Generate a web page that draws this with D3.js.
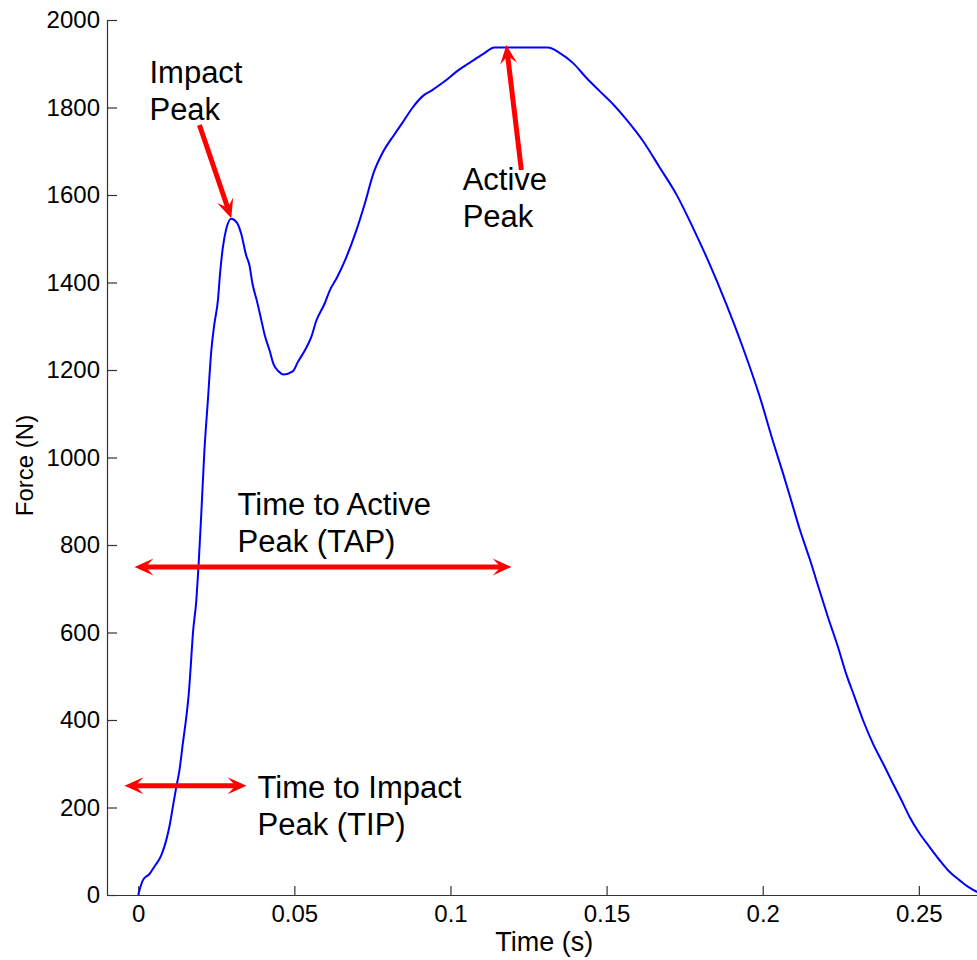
<!DOCTYPE html>
<html>
<head>
<meta charset="utf-8">
<script src="https://cdn.jsdelivr.net/npm/d3@7"></script>
<style>
  body { margin: 0; background: #fff; }
  svg { display: block; font-family: "Liberation Sans", Arial, Helvetica, sans-serif; }
</style>
</head>
<body>
<div id="chart"></div>
<script>
// ground reaction force
const time = [0, 0.0015, 0.0036, 0.0052, 0.0074, 0.0090, 0.0102, 0.0111, 0.0122, 0.0132,
  0.0143, 0.0154, 0.0162, 0.0168, 0.0175, 0.0186, 0.0193, 0.0202, 0.0212, 0.0223,
  0.0234, 0.0244, 0.0255, 0.0262, 0.0271, 0.0282, 0.0298, 0.0316, 0.0330, 0.0346,
  0.0356, 0.0366, 0.0380, 0.0393, 0.0405, 0.0421, 0.0433, 0.0449, 0.0465, 0.0495,
  0.0511, 0.0533, 0.0554, 0.0570, 0.0597, 0.0613, 0.0637, 0.0666, 0.0698, 0.0725,
  0.0754, 0.0783, 0.0821, 0.0847, 0.0879, 0.0911, 0.0938, 0.0976, 0.1029, 0.1061,
  0.1104, 0.1141, 0.1312, 0.1349, 0.1392, 0.1435, 0.1477, 0.1520, 0.1563, 0.1616,
  0.1670, 0.1723, 0.1776, 0.1830, 0.1883, 0.1936, 0.1990, 0.2032, 0.2064, 0.2091,
  0.2118, 0.2150, 0.2182, 0.2209, 0.2241, 0.2267, 0.2294, 0.2321, 0.2353, 0.2385,
  0.2417, 0.2444, 0.2470, 0.2502, 0.2534, 0.2566, 0.2598, 0.2630, 0.2657, 0.2684, 0.2700];
const force = [0, 34, 48, 65, 91, 126, 164, 202, 247, 285,
  347, 407, 461, 521, 597, 673, 750, 872, 1016, 1130,
  1244, 1306, 1358, 1420, 1480, 1523, 1546, 1537, 1511, 1461,
  1440, 1397, 1358, 1318, 1280, 1244, 1214, 1197, 1190, 1197,
  1218, 1244, 1275, 1312, 1352, 1381, 1412, 1457, 1518, 1579,
  1651, 1697, 1739, 1766, 1800, 1826, 1838, 1857, 1887, 1902,
  1922, 1937, 1937, 1925, 1902, 1868, 1838, 1808, 1773, 1724,
  1663, 1602, 1526, 1442, 1351, 1252, 1140, 1039, 966, 902,
  837, 769, 696, 635, 567, 506, 453, 400, 346, 301,
  255, 217, 179, 141, 110, 80, 53, 34, 19, 8, 4];

const xTicks = [0, 0.05, 0.1, 0.15, 0.2, 0.25];
const yTicks = [0, 200, 400, 600, 800, 1000, 1200, 1400, 1600, 1800, 2000];
const xLabel = "Time (s)";
const yLabel = "Force (N)";

// annotation texts and where they sit (data units)
const notes = [
  {lines: ["Impact", "Peak"], t: 0.0036, f: 1856},
  {lines: ["Active", "Peak"], t: 0.1039, f: 1611},
  {lines: ["Time to Active", "Peak (TAP)"], t: 0.0318, f: 869},
  {lines: ["Time to Impact", "Peak (TIP)"], t: 0.0382, f: 222}
];
const arrows = [
  {from: [0.0196, 1760], to: [0.0298, 1547], both: false},
  {from: [0.1227, 1657], to: [0.1179, 1943], both: false},
  {from: [-0.0012, 750], to: [0.1196, 750], both: true},
  {from: [-0.0044, 250], to: [0.0347, 250], both: true}
];

const width = 977, height = 960;
const margin = {top: 20, left: 107, bottom: 65};

const svg = d3.select("#chart").append("svg")
  .attr("width", width)
  .attr("height", height);

const x = d3.scaleLinear().domain([-0.01, 0.27]).range([margin.left, 981.3]);
const y = d3.scaleLinear().domain([0, 2000]).range([height - margin.bottom, margin.top]);

const xAxis = d3.axisBottom(x).tickValues(xTicks).tickFormat(d3.format("")).tickSizeInner(-9).tickSizeOuter(0).tickPadding(10);
const yAxis = d3.axisLeft(y).tickValues(yTicks).tickFormat(d3.format("d")).tickSizeInner(-10).tickSizeOuter(0).tickPadding(7);

svg.append("g")
  .attr("transform", `translate(0,${y(0)})`)
  .call(xAxis)
  .attr("font-family", null)
  .attr("font-size", 24)
  .call(g => g.selectAll("text").attr("fill", "#000"));

svg.append("g")
  .attr("transform", `translate(${margin.left},0)`)
  .call(yAxis)
  .attr("font-family", null)
  .attr("font-size", 24)
  .call(g => g.selectAll("text").attr("fill", "#000"));

svg.selectAll(".domain, .tick line").attr("stroke", "#333").attr("stroke-width", 1.2);

svg.append("text")
  .attr("x", (margin.left + 981.3) / 2)
  .attr("y", 951)
  .attr("text-anchor", "middle")
  .attr("font-size", 27)
  .text(xLabel);

svg.append("text")
  .attr("transform", `translate(33,${(y(0) + y(2000)) / 2 + 8}) rotate(-90)`)
  .attr("text-anchor", "middle")
  .attr("font-size", 24)
  .text(yLabel);

const points = time.map((t, i) => [t, force[i]]);
const line = d3.line().x(d => x(d[0])).y(d => y(d[1])).curve(d3.curveMonotoneX);

svg.append("path")
  .datum(points)
  .attr("fill", "none")
  .attr("stroke", "#0000ff")
  .attr("stroke-width", 2)
  .attr("d", line);

// red arrows with notched heads
function head(tip, u) {
  const L = 19, W = 8.5, N = 11;
  const n = [-u[1], u[0]];
  const p = (a, b) => [tip[0] - u[0] * a + n[0] * b, tip[1] - u[1] * a + n[1] * b];
  return {
    path: "M" + [tip, p(L, W), p(N, 0), p(L, -W)].map(q => q.join(",")).join("L") + "Z",
    notch: p(N, 0)
  };
}

const ag = svg.append("g");
arrows.forEach(a => {
  const s = [x(a.from[0]), y(a.from[1])];
  const e = [x(a.to[0]), y(a.to[1])];
  const len = Math.hypot(e[0] - s[0], e[1] - s[1]);
  const u = [(e[0] - s[0]) / len, (e[1] - s[1]) / len];
  const h1 = head(e, u);
  let start = s;
  ag.append("path").attr("d", h1.path).attr("fill", "#ff0000");
  if (a.both) {
    const h2 = head(s, [-u[0], -u[1]]);
    ag.append("path").attr("d", h2.path).attr("fill", "#ff0000");
    start = h2.notch;
  }
  ag.append("line")
    .attr("x1", start[0]).attr("y1", start[1])
    .attr("x2", h1.notch[0]).attr("y2", h1.notch[1])
    .attr("stroke", "#ff0000")
    .attr("stroke-width", 5);
});

const tg = svg.append("g").attr("font-size", 31).attr("fill", "#000");
notes.forEach(nt => {
  const txt = tg.append("text").attr("x", x(nt.t)).attr("y", y(nt.f));
  nt.lines.forEach((l, i) => {
    txt.append("tspan").attr("x", x(nt.t)).attr("dy", i === 0 ? 0 : 37).text(l);
  });
});
</script>
</body>
</html>
